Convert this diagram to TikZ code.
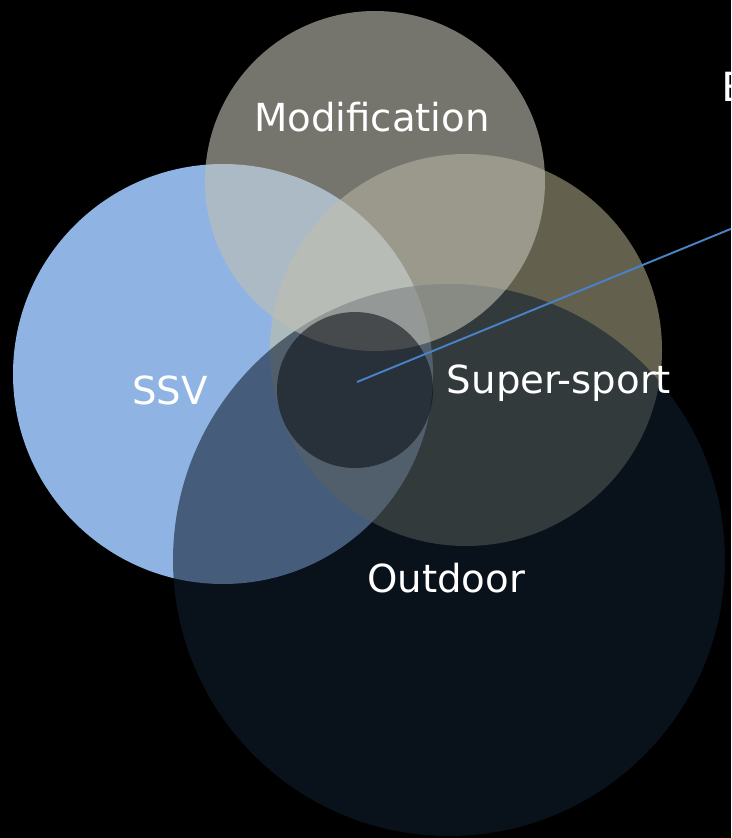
\documentclass[tikz,border=0pt]{standalone}
\usepackage{fontspec}
\setmainfont{DejaVu Sans}
\newfontfamily\calloutfont{Carlito}
\usetikzlibrary{calc}

\definecolor{ssvblue}{RGB}{143,180,228}
\definecolor{sportolive}{RGB}{196,192,153}
\definecolor{modgray}{RGB}{192,190,179}
\definecolor{outnavy}{RGB}{16,30,48}
\definecolor{coredark}{RGB}{8,10,18}
\definecolor{pointerblue}{RGB}{72,130,200}

\begin{document}
\begin{tikzpicture}[
        %pixel grid of the slide, y runs downwards
        x=0.02cm, y=-0.02cm,
        set label/.style={text=white, anchor=base, font=\fontsize{22}{26}\selectfont},
        callout/.style={text=white, anchor=base west, font=\calloutfont\fontsize{26}{30}\selectfont},
        pointer/.style={pointerblue, line width=1.1pt}
     ]
    % frame of the slide
    \useasboundingbox (0,0) rectangle (731,838);
    \fill[black] (0,0) rectangle (731,838);
    \clip (0,0) rectangle (731,838);
    % centres of the sets
    \coordinate (ssv) at (223,374);
    \coordinate (sport) at (466,350);
    \coordinate (outdoor) at (449,560);
    \coordinate (mod) at (375,181);
    \coordinate (core) at (355,390);
    \coordinate (hub) at (357,382);
    \coordinate (tip) at ($(hub)+(420,-172)$);

    % the sets, back to front
    \fill[ssvblue] (ssv) circle (210);
    \fill[sportolive, opacity=0.51] (sport) circle (196);
    \fill[outnavy, opacity=0.58] (outdoor) circle (276);
    \fill[modgray, opacity=0.61] (mod) circle (170);
    \fill[coredark, opacity=0.55] (core) circle (78);

    % pointer out of the common core
    \draw[pointer] (hub) -- (tip);

    % labels
    \node[set label] (modlabel) at (372,132) {Modification};
    \node[set label] (ssvlabel) at (170,404) {SSV};
    \node[set label] (sportlabel) at (559,393) {Super-sport};
    \node[set label] (outdoorlabel) at (446,592) {Outdoor};
    \node[callout] (corelabel) at (716,102) {E};
\end{tikzpicture}
\end{document}
